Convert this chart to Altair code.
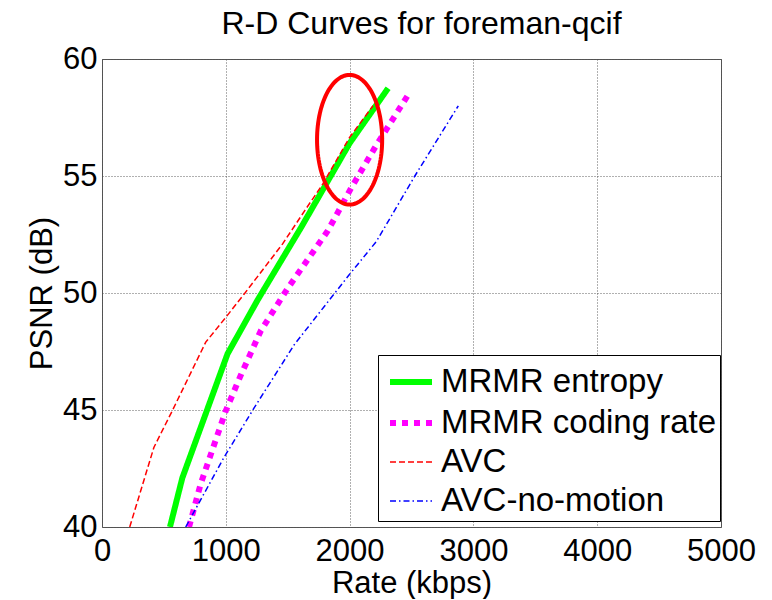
import altair as alt
import pandas as pd
import numpy as np

series_names = ["MRMR entropy", "MRMR coding rate", "AVC", "AVC-no-motion"]
series_colors = ["#00ff00", "#ff00ff", "#ff0000", "#0000ff"]
series_dashes = [[1, 0], [6, 6], [6, 3], [6, 3, 1.5, 3]]
series_widths = [6, 6, 1.5, 1.5]

entropy_rate = [549, 649, 1014, 1257, 1608, 2000, 2311]
entropy_psnr = [40.0, 42.1, 47.4, 49.7, 52.8, 56.4, 58.75]

coding_rate = [703, 797, 1000, 1122, 1284, 1500, 1824, 2014, 2203, 2486]
coding_psnr = [40.0, 41.84, 44.97, 46.5, 48.4, 50.2, 52.66, 54.5, 56.2, 58.58]

avc_rate = [224, 419, 568, 838, 1000, 1149, 1459, 1635, 1784, 2000, 2189]
avc_psnr = [40.0, 43.4, 44.97, 47.9, 48.96, 49.96, 52.1, 53.5, 54.66, 56.65, 58.0]

nomo_rate = [676, 986, 1230, 1554, 2000, 2216, 2527, 2878]
nomo_psnr = [40.0, 42.98, 45.1, 47.8, 50.8, 52.2, 55.0, 58.0]

# highlight ellipse annotation: center and radii (data units)
ellipse_center = [2000, 56.55]
ellipse_radius = [263, 2.77]

x_ticks = [0, 1000, 2000, 3000, 4000, 5000]
y_ticks = [40, 45, 50, 55, 60]

rows = []
for name, rs, ps in zip(series_names,
                        [entropy_rate, coding_rate, avc_rate, nomo_rate],
                        [entropy_psnr, coding_psnr, avc_psnr, nomo_psnr]):
    for i, (r, p) in enumerate(zip(rs, ps)):
        rows.append({"series": name, "rate": r, "psnr": p, "idx": i})
df = pd.DataFrame(rows)

t = np.linspace(0, 2 * np.pi, 121)
ell = pd.DataFrame({
    "rate": ellipse_center[0] + ellipse_radius[0] * np.cos(t),
    "psnr": ellipse_center[1] + ellipse_radius[1] * np.sin(t),
    "idx": np.arange(len(t)),
})

FONT = "Liberation Sans"
W, H = 619, 468

xenc = alt.X("rate:Q",
             scale=alt.Scale(domain=[0, 5000], nice=False),
             axis=alt.Axis(values=x_ticks, title="Rate (kbps)", format="d",
                           labelFlush=False, ticks=False, domain=False,
                           labelPadding=9, titleBaseline="alphabetic", titleY=65,
                           grid=True))
yenc = alt.Y("psnr:Q",
             scale=alt.Scale(domain=[40, 60], nice=False, zero=False),
             axis=alt.Axis(values=y_ticks, title="PSNR (dB)", format="d",
                           labelFlush=False, ticks=False, domain=False,
                           labelPadding=5, titleBaseline="alphabetic", titleX=-51,
                           titleY=H / 2, grid=True))

leg = dict(orient="none", legendX=276, legendY=296, title=None,
           labelFontSize=33, labelFont=FONT, labelLimit=500, symbolType="stroke",
           symbolSize=1764, strokeColor="black", fillColor="white",
           padding=3, rowPadding=-2, labelOffset=6, symbolOffset=6,
           labelColor="black")

lines = alt.Chart(df).mark_line(clip=True, strokeCap="butt").encode(
    x=xenc,
    y=yenc,
    color=alt.Color("series:N",
                    scale=alt.Scale(domain=series_names, range=series_colors),
                    legend=alt.Legend(**leg)),
    strokeDash=alt.StrokeDash("series:N",
                              scale=alt.Scale(domain=series_names, range=series_dashes),
                              legend=alt.Legend(**leg)),
    strokeWidth=alt.StrokeWidth("series:N",
                                scale=alt.Scale(type="ordinal", domain=series_names,
                                                range=series_widths),
                                legend=alt.Legend(**leg)),
    order="idx:Q",
)

ellipse = alt.Chart(ell).mark_line(color="#ff0000", strokeWidth=4, clip=True).encode(
    x="rate:Q", y="psnr:Q", order="idx:Q"
)

chart = alt.layer(lines, ellipse).properties(
    width=W, height=H,
    title=alt.TitleParams("R-D Curves for foreman-qcif", fontSize=32, font=FONT,
                          fontWeight="normal", anchor="middle", baseline="alphabetic",
                          frame="group", offset=9, dx=10, dy=32, color="black"),
    autosize=alt.AutoSizeParams(type="none"),
    padding={"left": 94, "top": 51, "right": 40, "bottom": 72},
).configure_view(
    stroke="#555555", strokeWidth=1
).configure_axis(
    labelFont=FONT, labelFontSize=31, labelColor="black",
    titleFont=FONT, titleFontSize=31, titleFontWeight="normal", titleColor="black",
    gridColor="#505050", gridDash=[1, 2], gridWidth=1, gridOpacity=0.9,
)

chart.save("out.html", embed_options={"renderer": "svg", "actions": False})
